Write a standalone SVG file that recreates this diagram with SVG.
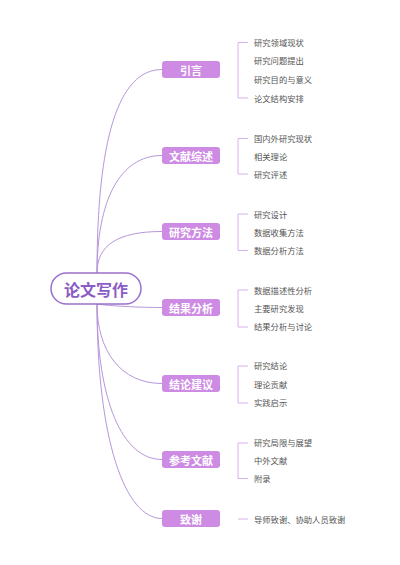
<svg xmlns="http://www.w3.org/2000/svg" width="400" height="565" viewBox="0 0 400 565">
<style>
.bg{fill:#ffffff}
.conn{fill:none;stroke:#b697da;stroke-width:1}
.brk{fill:none;stroke:#d8b2ea;stroke-width:1}
.box{fill:#cd8be4}
.bt{font-family:"Noto Sans CJK SC","Noto Sans",sans-serif;font-size:11px;font-weight:bold;fill:#ffffff;text-anchor:middle;dominant-baseline:central}
.lt{font-family:"Noto Sans CJK SC","Noto Sans",sans-serif;font-size:8.3px;fill:#555555;dominant-baseline:central}
.root{fill:#ffffff;stroke:#9a70cc;stroke-width:1.5}
.rt{font-family:"Noto Sans CJK SC","Noto Sans",sans-serif;font-size:16px;font-weight:bold;fill:#8b5cc5;text-anchor:middle;dominant-baseline:central}
</style>
<rect class="bg" x="0" y="0" width="400" height="565"/>
<g id="connectors">
<path class="conn" d="M97,273 C97,140 118,69.5 162,69.5"/>
<path class="conn" d="M97,273 C97,200 120,155.5 162,155.5"/>
<path class="conn" d="M97,273 C97,245 118,231.5 162,231.5"/>
<path class="conn" d="M97,304 C110,306 140,307.5 162,307.5"/>
<path class="conn" d="M97,304 C97,350 120,383.5 162,383.5"/>
<path class="conn" d="M97,304 C97,400 122,459.5 162,459.5"/>
<path class="conn" d="M97,304 C97,440 125,518.5 162,518.5"/>
<path class="brk" d="M248,42.5 H238 V98 H248"/>
<path class="brk" d="M248,138.5 H238 V174 H248"/>
<path class="brk" d="M248,214 H238 V250.5 H248"/>
<path class="brk" d="M248,290 H238 V327 H248"/>
<path class="brk" d="M248,366 H238 V403 H248"/>
<path class="brk" d="M248,443 H238 V478.5 H248"/>
<path class="brk" d="M238,519 H248"/>
</g>
<g id="root">
<rect class="root" x="51" y="273" width="90" height="31" rx="15.5"/>
<text class="rt" x="96" y="289">论文写作</text>
</g>
<g id="n1">
<rect class="box" x="162" y="61" width="58" height="17" rx="3"/>
<text class="bt" x="191" y="69.5">引言</text>
<text class="lt" x="254" y="42">研究领域现状</text>
<text class="lt" x="254" y="60">研究问题提出</text>
<text class="lt" x="254" y="78.5">研究目的与意义</text>
<text class="lt" x="254" y="97.5">论文结构安排</text>
</g>
<g id="n2">
<rect class="box" x="162" y="147" width="58" height="17" rx="3"/>
<text class="bt" x="191" y="155.5">文献综述</text>
<text class="lt" x="254" y="137.5">国内外研究现状</text>
<text class="lt" x="254" y="155.5">相关理论</text>
<text class="lt" x="254" y="173.5">研究评述</text>
</g>
<g id="n3">
<rect class="box" x="162" y="223" width="58" height="17" rx="3"/>
<text class="bt" x="191" y="231.5">研究方法</text>
<text class="lt" x="254" y="213.5">研究设计</text>
<text class="lt" x="254" y="231.5">数据收集方法</text>
<text class="lt" x="254" y="249.5">数据分析方法</text>
</g>
<g id="n4">
<rect class="box" x="162" y="299" width="58" height="17" rx="3"/>
<text class="bt" x="191" y="307.5">结果分析</text>
<text class="lt" x="254" y="289.5">数据描述性分析</text>
<text class="lt" x="254" y="307.5">主要研究发现</text>
<text class="lt" x="254" y="325.5">结果分析与讨论</text>
</g>
<g id="n5">
<rect class="box" x="162" y="375" width="58" height="17" rx="3"/>
<text class="bt" x="191" y="383.5">结论建议</text>
<text class="lt" x="254" y="365">研究结论</text>
<text class="lt" x="254" y="383.5">理论贡献</text>
<text class="lt" x="254" y="402">实践启示</text>
</g>
<g id="n6">
<rect class="box" x="162" y="451" width="58" height="17" rx="3"/>
<text class="bt" x="191" y="459.5">参考文献</text>
<text class="lt" x="254" y="442">研究局限与展望</text>
<text class="lt" x="254" y="460">中外文献</text>
<text class="lt" x="254" y="477.5">附录</text>
</g>
<g id="n7">
<rect class="box" x="162" y="510" width="58" height="17" rx="3"/>
<text class="bt" x="191" y="518.5">致谢</text>
<text class="lt" x="254" y="518.5">导师致谢、协助人员致谢</text>
</g>
</svg>
